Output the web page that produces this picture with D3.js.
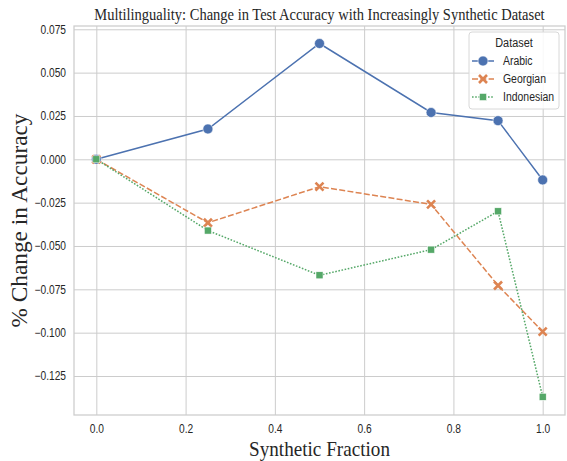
<!DOCTYPE html>
<html>
<head>
<meta charset="utf-8">
<script src="https://cdn.jsdelivr.net/npm/d3@7"></script>
<style>
  body { margin: 0; background: #fff; }
  svg { display: block; }
</style>
</head>
<body>
<svg id="chart"></svg>
<script>
// data
const fractions = [0.0, 0.25, 0.5, 0.75, 0.9, 1.0];
const arabic = [0.0, 0.0175, 0.0668, 0.0270, 0.0223, -0.0119];
const georgian = [0.0, -0.0366, -0.0158, -0.0260, -0.0728, -0.0994];
const indonesian = [0.0, -0.0411, -0.0669, -0.0521, -0.0300, -0.1370];
const seriesNames = ['Arabic', 'Georgian', 'Indonesian'];
const xTicks = [0.0, 0.2, 0.4, 0.6, 0.8, 1.0];
const yTicks = [0.075, 0.050, 0.025, 0.000, -0.025, -0.050, -0.075, -0.100, -0.125];

const width = 567, height = 461;
const margin = {top: 26, right: 2, bottom: 46, left: 74};
const iw = width - margin.left - margin.right;
const ih = height - margin.top - margin.bottom;

const colors = ['#4c72b0', '#dd8452', '#55a868'];
const dashes = ['none', '6,2.3', '1.6,1.6'];
const grey = '#cccccc';
const sans = '"Liberation Sans", Arial, sans-serif';
const serif = '"Liberation Serif", "Times New Roman", serif';

const series = [arabic, georgian, indonesian].map((vals, i) => ({
  name: seriesNames[i],
  points: fractions.map((f, j) => ({x: f, y: vals[j]}))
}));

const svg = d3.select('#chart')
  .attr('width', width)
  .attr('height', height);

const g = svg.append('g')
  .attr('transform', 'translate(' + margin.left + ',' + margin.top + ')');

// matplotlib style 5% padding
const xScale = d3.scaleLinear().domain([-0.05, 1.05]).range([0, iw]);
const yScale = d3.scaleLinear().domain([-0.1475, 0.0769]).range([ih, 0]);

// squeeze a text element to a fraction of its natural width
function squeeze(sel, k) {
  sel.each(function() {
    const len = this.getComputedTextLength();
    d3.select(this).attr('textLength', len * k).attr('lengthAdjust', 'spacingAndGlyphs');
  });
}

// text placed at (x, y) and horizontally scaled to a given width
function fitText(parent, x, y, w, rot) {
  const t = parent.append('text').attr('text-anchor', 'middle');
  t.place = function() {
    const k = w / this.node().getComputedTextLength();
    this.attr('transform', 'translate(' + x + ',' + y + ')' + (rot ? ' rotate(' + rot + ')' : '') + ' scale(' + k + ',1)');
    return this;
  };
  return t;
}

// grid
g.append('g')
  .call(d3.axisBottom(xScale).tickValues(xTicks).tickSize(ih).tickFormat(''))
  .call(a => a.select('.domain').remove())
  .call(a => a.selectAll('line').attr('stroke', grey).attr('stroke-width', 1));

g.append('g')
  .call(d3.axisLeft(yScale).tickValues(yTicks).tickSize(-iw).tickFormat(''))
  .call(a => a.select('.domain').remove())
  .call(a => a.selectAll('line').attr('stroke', grey).attr('stroke-width', 1));

// frame
g.append('rect')
  .attr('width', iw).attr('height', ih)
  .attr('fill', 'none').attr('stroke', grey).attr('stroke-width', 1.25);

// tick labels
const xAxis = g.append('g')
  .attr('transform', 'translate(0,' + ih + ')')
  .call(d3.axisBottom(xScale).tickValues(xTicks).tickSize(0).tickPadding(9).tickFormat(d3.format('.1f')));
xAxis.select('.domain').remove();
xAxis.selectAll('text').attr('font-family', sans).attr('font-size', 12).attr('fill', '#262626')
  .call(squeeze, 0.85);

const yAxis = g.append('g')
  .call(d3.axisLeft(yScale).tickValues(yTicks).tickSize(0).tickPadding(8)
    .tickFormat(d => d3.format('.3f')(d).replace('-', '\u2212')));
yAxis.select('.domain').remove();
yAxis.selectAll('text').attr('font-family', sans).attr('font-size', 12).attr('fill', '#262626')
  .call(squeeze, 0.85);

// lines
const line = d3.line().x(d => xScale(d.x)).y(d => yScale(d.y));

series.forEach((s, i) => {
  g.append('path')
    .datum(s.points)
    .attr('fill', 'none')
    .attr('stroke', colors[i])
    .attr('stroke-width', 1.5)
    .attr('stroke-dasharray', dashes[i])
    .attr('d', line);
});

function drawMarker(sel, i, cx, cy) {
  if (i === 0) {
    sel.append('circle').attr('cx', cx).attr('cy', cy).attr('r', 5)
      .attr('fill', colors[0]).attr('stroke', '#fff').attr('stroke-width', 0.6);
  } else if (i === 1) {
    const r = 4;
    sel.append('path')
      .attr('d', `M${cx - r},${cy - r}L${cx + r},${cy + r}M${cx - r},${cy + r}L${cx + r},${cy - r}`)
      .attr('stroke', colors[1]).attr('stroke-width', 2.6).attr('stroke-linecap', 'butt');
  } else {
    const r = 3.5;
    sel.append('rect').attr('x', cx - r).attr('y', cy - r).attr('width', 2 * r).attr('height', 2 * r)
      .attr('fill', colors[2]).attr('stroke', '#fff').attr('stroke-width', 0.5);
  }
}

series.forEach((s, i) => {
  const mg = g.append('g');
  s.points.forEach(p => drawMarker(mg, i, xScale(p.x), yScale(p.y)));
});

// legend
const lg = svg.append('g').attr('transform', 'translate(469,32)');
lg.append('rect')
  .attr('width', 90).attr('height', 77).attr('rx', 3)
  .attr('fill', '#fff').attr('fill-opacity', 0.85)
  .attr('stroke', '#d8d8d8').attr('stroke-width', 1);
lg.append('text')
  .attr('x', 45).attr('y', 15)
  .attr('text-anchor', 'middle')
  .attr('font-family', sans).attr('font-size', 12.5).attr('fill', '#262626')
  .text('Dataset')
  .call(squeeze, 0.87);

seriesNames.forEach((name, i) => {
  const y = 29 + i * 18;
  const row = lg.append('g');
  row.append('line')
    .attr('x1', 3).attr('x2', 25).attr('y1', y).attr('y2', y)
    .attr('stroke', colors[i]).attr('stroke-width', 1.5)
    .attr('stroke-dasharray', dashes[i]);
  drawMarker(row, i, 14, y);
  row.append('text')
    .attr('x', 34).attr('y', y + 4)
    .attr('font-family', sans).attr('font-size', 12).attr('fill', '#262626')
    .text(name)
    .call(squeeze, 0.87);
});

// title and axis labels
fitText(svg, margin.left + iw / 2, 19.5, 451)
  .attr('font-family', serif).attr('font-size', 16.5).attr('fill', '#262626')
  .text('Multilinguality: Change in Test Accuracy with Increasingly Synthetic Dataset')
  .place();

fitText(svg, margin.left + iw / 2, 456, 141)
  .attr('font-family', serif).attr('font-size', 21.5).attr('fill', '#262626')
  .text('Synthetic Fraction')
  .place();

const yLab = svg.append('text')
  .attr('text-anchor', 'middle')
  .attr('font-family', serif).attr('font-size', 24).attr('fill', '#262626')
  .text('% Change in Accuracy');
const yk = 214 / yLab.node().getComputedTextLength();
yLab.attr('transform', 'translate(27,' + (margin.top + ih / 2) + ') rotate(-90) scale(' + yk + ',1)');
</script>
</body>
</html>
